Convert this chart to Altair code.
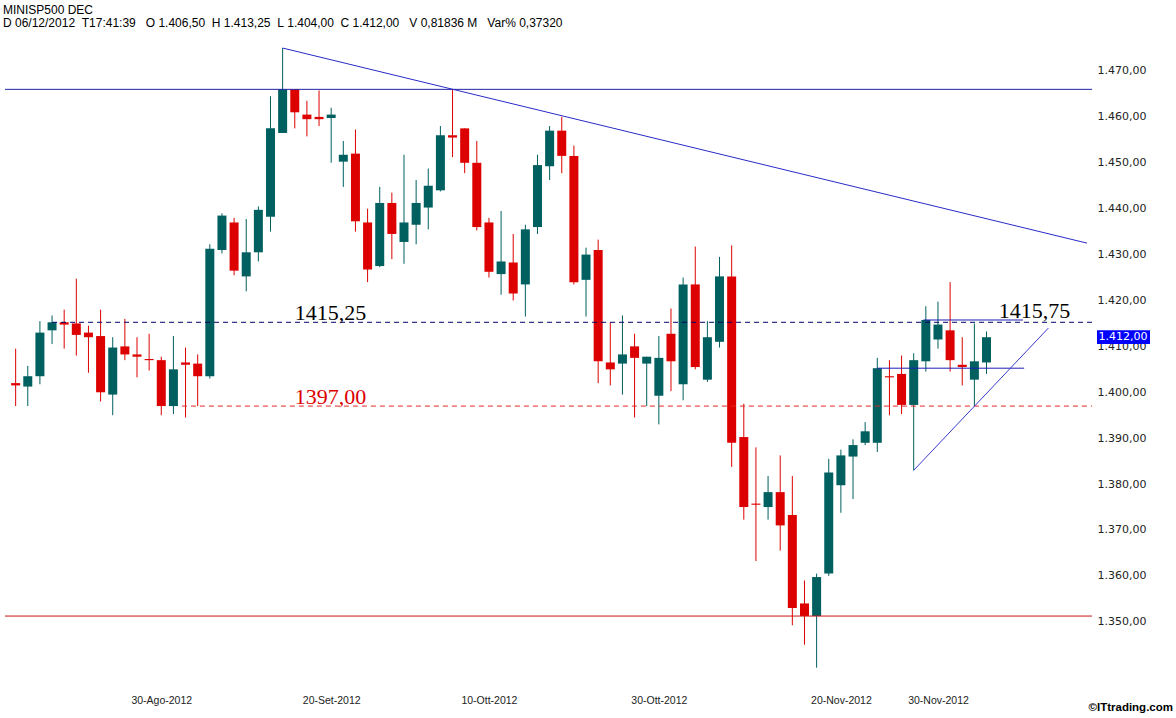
import json
import altair as alt
import pandas as pd

# ---------------- data ----------------
opens = [1402.0, 1401.25, 1403.5, 1413.5, 1415.25, 1415.0, 1413.0, 1412.25, 1399.5, 1410.0,
         1408.25, 1407.25, 1407.0, 1397.0, 1406.5, 1406.25, 1403.5, 1431.0, 1437.0, 1425.25,
         1430.5, 1438.25, 1456.5, 1466.0, 1460.5, 1460.0, 1459.75, 1450.25, 1452.0, 1437.0,
         1427.5, 1441.25, 1432.75, 1436.5, 1440.25, 1444.0, 1456.0, 1457.5, 1450.0, 1437.0,
         1425.75, 1428.25, 1423.5, 1436.0, 1449.25, 1457.0, 1451.5, 1424.5, 1431.0, 1406.5,
         1406.25, 1410.0, 1406.25, 1399.25, 1412.75, 1401.75, 1423.5, 1402.75, 1411.0, 1425.25,
         1390.25, 1375.75, 1375.0, 1378.25, 1373.25, 1354.0, 1351.25, 1360.5, 1379.75, 1386.0,
         1389.0, 1389.0, 1403.5, 1404.0, 1397.25, 1406.75, 1411.5, 1413.5, 1406.0, 1402.75,
         1406.5]
highs = [1409.5, 1405.75, 1415.5, 1416.75, 1418.0, 1424.75, 1414.5, 1418.0, 1412.0, 1416.0,
         1412.0, 1412.75, 1407.75, 1412.25, 1409.75, 1408.25, 1432.25, 1439.0, 1438.0, 1437.75,
         1440.5, 1464.5, 1475.0, 1466.0, 1463.5, 1465.75, 1462.0, 1454.75, 1457.25, 1440.0,
         1444.75, 1443.5, 1451.75, 1446.25, 1448.75, 1458.0, 1466.0, 1457.5, 1454.75, 1438.0,
         1439.5, 1434.5, 1436.5, 1451.75, 1458.0, 1460.0, 1453.75, 1431.5, 1433.25, 1415.25,
         1416.75, 1412.75, 1407.75, 1412.25, 1418.25, 1425.0, 1431.75, 1415.5, 1429.5, 1432.0,
         1397.5, 1388.0, 1381.75, 1386.25, 1381.75, 1359.0, 1360.5, 1385.5, 1387.5, 1389.75,
         1393.5, 1407.5, 1407.0, 1408.0, 1408.5, 1418.75, 1419.75, 1424.0, 1412.0, 1415.0,
         1413.25]
lows = [1397.0, 1397.0, 1401.75, 1410.5, 1409.5, 1408.0, 1404.25, 1398.0, 1395.0, 1407.0,
        1403.25, 1404.75, 1395.0, 1395.25, 1394.5, 1397.0, 1403.0, 1430.25, 1425.5, 1422.0,
        1428.5, 1435.0, 1456.5, 1457.5, 1455.75, 1458.0, 1450.0, 1444.75, 1435.0, 1424.0,
        1427.25, 1429.0, 1428.0, 1432.25, 1435.5, 1443.75, 1451.25, 1447.75, 1435.25, 1425.0,
        1421.25, 1420.0, 1416.5, 1434.5, 1446.25, 1447.75, 1423.5, 1416.5, 1402.0, 1401.5,
        1399.5, 1394.5, 1397.0, 1393.0, 1400.25, 1398.25, 1405.0, 1402.25, 1409.75, 1383.75,
        1372.25, 1363.25, 1372.25, 1365.5, 1349.25, 1345.0, 1340.0, 1360.0, 1373.75, 1376.75,
        1388.5, 1387.0, 1395.0, 1395.25, 1383.0, 1404.5, 1409.5, 1404.5, 1401.5, 1397.0,
        1404.0]
closes = [1401.5, 1403.5, 1413.0, 1415.25, 1414.75, 1412.5, 1412.0, 1400.0, 1409.75, 1408.25,
          1407.75, 1407.0, 1397.0, 1405.0, 1406.0, 1403.5, 1431.25, 1438.5, 1426.5, 1430.5,
          1439.75, 1457.5, 1466.0, 1461.0, 1459.5, 1459.5, 1460.5, 1451.75, 1437.25, 1426.75,
          1441.25, 1434.5, 1437.0, 1441.25, 1445.0, 1456.0, 1455.5, 1450.0, 1436.0, 1426.25,
          1428.5, 1421.5, 1435.5, 1449.5, 1457.0, 1451.5, 1424.0, 1430.0, 1406.75, 1405.0,
          1408.25, 1407.5, 1407.75, 1407.5, 1406.75, 1423.5, 1405.5, 1412.0, 1425.25, 1389.0,
          1375.0, 1375.5, 1378.25, 1371.0, 1353.0, 1351.25, 1359.75, 1382.5, 1386.25, 1388.5,
          1391.5, 1405.25, 1403.25, 1397.25, 1407.0, 1415.75, 1414.75, 1407.0, 1405.5, 1406.75,
          1412.0]

x_tick_idx = [12, 26, 39, 53, 68, 76]
x_tick_labels = ["30-Ago-2012", "20-Set-2012", "10-Ott-2012", "30-Ott-2012", "20-Nov-2012", "30-Nov-2012"]
y_ticks = [1350, 1360, 1370, 1380, 1390, 1400, 1410, 1420, 1430, 1440, 1450, 1460, 1470]

# drawn levels / trend lines (price levels and anchor candles)
full_levels = [1466.0, 1351.25]
full_level_colors = ["#2323a6", "#cc1515"]
dashed_levels = [1415.25, 1397.0]
dashed_start = [3.0, 13.7]
dashed_colors = ["#000066", "#e02828"]
short_levels = [1415.75, 1405.25]
short_start = [74.8, 71.0]
short_end = [83.0, 83.1]
trend_x1 = [22.0, 74.0]
trend_y1 = [1475.0, 1383.0]
trend_x2 = [88.28, 85.1]
trend_y2 = [1432.5, 1414.0]
trend_colors = ["#2a2ac8", "#3a3ad0"]

level_texts = ["1415,25", "1397,00", "1415,75"]
level_text_x = [23.0, 23.0, 81.0]
level_text_y = [1415.25, 1397.0, 1415.75]
level_text_colors = ["#000000", "#dd0000", "#000000"]

header1 = "MINISP500 DEC"
header2 = ("D\u00a006/12/2012\u00a0\u00a0T17:41:39\u00a0\u00a0\u00a0O\u00a01.406,50\u00a0\u00a0H\u00a01.413,25"
           "\u00a0\u00a0L\u00a01.404,00\u00a0\u00a0C\u00a01.412,00\u00a0\u00a0\u00a0V\u00a00,81836\u00a0M"
           "\u00a0\u00a0\u00a0Var%\u00a00,37320")
copyright_text = "\u00a9ITtrading.com"

# ---------------- geometry / style ----------------
W, H = 1087, 655
PAD = {"left": 5, "top": 30, "right": 84, "bottom": 33}
GREEN = "#005f5f"
RED = "#dd0000"

xs = alt.Scale(domain=[-0.465, 88.28], nice=False, zero=False)
ys = alt.Scale(domain=[1336.23, 1478.93], nice=False, zero=False)

n = len(opens)
candles = pd.DataFrame({
    "i": list(range(n)),
    "open": opens, "high": highs, "low": lows, "close": closes,
})
candles["dir"] = ["up" if c > o else "down" for o, c in zip(opens, closes)]
color = alt.Color("dir:N", scale=alt.Scale(domain=["up", "down"], range=[GREEN, RED]), legend=None)

y_label_expr = "replace(replace(replace(format(datum.value, ',.2f'), ',', '#'), '.', ','), '#', '.')"
x_label_expr = "%s[indexof(%s, datum.value)]" % (json.dumps(x_tick_labels), json.dumps(x_tick_idx))

x_axis = alt.Axis(values=x_tick_idx, labelExpr=x_label_expr, title=None, grid=False, ticks=False,
                  domain=False, labelPadding=10, labelFont="Liberation Sans", labelFontSize=10.5,
                  labelColor="#222222")
y_axis = alt.Axis(orient="right", values=y_ticks, labelExpr=y_label_expr, title=None, grid=False,
                  ticks=False, domain=False, labelPadding=5, labelFont="DejaVu Sans",
                  labelFontSize=11, labelColor="#222222")

wicks = alt.Chart(candles).mark_rule(strokeWidth=1).encode(
    x=alt.X("i:Q", scale=xs, axis=x_axis),
    y=alt.Y("low:Q", scale=ys, axis=y_axis),
    y2="high:Q",
    color=color,
)
bodies = alt.Chart(candles).mark_bar(size=9).encode(
    x=alt.X("i:Q", scale=xs, axis=x_axis),
    y=alt.Y("open:Q", scale=ys, axis=y_axis),
    y2="close:Q",
    color=color,
)

full_df = pd.DataFrame({"p": full_levels, "c": full_level_colors})
full_rules = alt.Chart(full_df).mark_rule(strokeWidth=1).encode(
    y=alt.Y("p:Q", scale=ys, axis=y_axis),
    x=alt.value(0), x2=alt.value(W),
    color=alt.Color("c:N", scale=None),
)

dash_df = pd.DataFrame({"p": dashed_levels, "s": dashed_start, "c": dashed_colors})
dash_rules = alt.Chart(dash_df).mark_rule(strokeWidth=1, strokeDash=[5, 4]).encode(
    y=alt.Y("p:Q", scale=ys, axis=y_axis),
    x=alt.X("s:Q", scale=xs, axis=x_axis), x2=alt.value(W),
    color=alt.Color("c:N", scale=None),
)

short_df = pd.DataFrame({"p": short_levels, "s": short_start, "e": short_end})
short_rules = alt.Chart(short_df).mark_rule(strokeWidth=1, color="#1e1eb4").encode(
    y=alt.Y("p:Q", scale=ys, axis=y_axis),
    x=alt.X("s:Q", scale=xs, axis=x_axis), x2="e:Q",
)

trend_df = pd.DataFrame({"x1": trend_x1, "y1": trend_y1, "x2": trend_x2, "y2": trend_y2, "c": trend_colors})
trend_rules = alt.Chart(trend_df).mark_rule(strokeWidth=1, clip=True).encode(
    x=alt.X("x1:Q", scale=xs, axis=x_axis), x2="x2:Q",
    y=alt.Y("y1:Q", scale=ys, axis=y_axis), y2="y2:Q",
    color=alt.Color("c:N", scale=None),
)

text_df = pd.DataFrame({"t": level_texts, "x": level_text_x, "y": level_text_y, "c": level_text_colors})
level_text = alt.Chart(text_df).mark_text(align="left", baseline="alphabetic", dy=-2,
                                           font="Liberation Serif", fontSize=22).encode(
    x=alt.X("x:Q", scale=xs, axis=x_axis),
    y=alt.Y("y:Q", scale=ys, axis=y_axis),
    text="t:N",
    color=alt.Color("c:N", scale=None),
)

# current price tag on the right axis
last_close = closes[-1]
tag_txt = "{:,.2f}".format(last_close).replace(",", "#").replace(".", ",").replace("#", ".")
tag_df = pd.DataFrame({"lo": [last_close - 1.5], "hi": [last_close + 1.5], "p": [last_close], "t": [tag_txt]})
tag_box = alt.Chart(tag_df).mark_rect(color="#0000ff").encode(
    y=alt.Y("lo:Q", scale=ys, axis=y_axis), y2="hi:Q",
    x=alt.value(W + 5), x2=alt.value(W + 58),
)
tag_text = alt.Chart(tag_df).mark_text(color="white", font="DejaVu Sans", fontSize=11,
                                       align="center", baseline="middle").encode(
    y=alt.Y("p:Q", scale=ys, axis=y_axis),
    x=alt.value(W + 31),
    text="t:N",
)

head_df = pd.DataFrame({"t": [header1, header2], "yy": [-16, -3]})
header = alt.Chart(head_df).mark_text(align="left", baseline="alphabetic", font="Liberation Sans",
                                      fontSize=12, color="#000000").encode(
    x=alt.value(-2), y=alt.Y("yy:Q", scale=None), text="t:N",
)

copy_df = pd.DataFrame({"t": [copyright_text]})
copyright_mark = alt.Chart(copy_df).mark_text(
    align="right", baseline="middle", font="Liberation Sans",
    fontSize=11.5, fontWeight="bold", color="#000000").encode(
    x=alt.value(W + 81), y=alt.value(H + 23), text="t:N",
)

chart = alt.layer(
    wicks, bodies, full_rules, dash_rules, short_rules, trend_rules,
    level_text, tag_box, tag_text, header, copyright_mark,
).properties(
    width=W, height=H, padding=PAD, autosize=alt.AutoSizeParams(type="none"), background="white",
).configure_view(stroke=None)

chart.save("out.html", embed_options={"renderer": "svg", "actions": False})
